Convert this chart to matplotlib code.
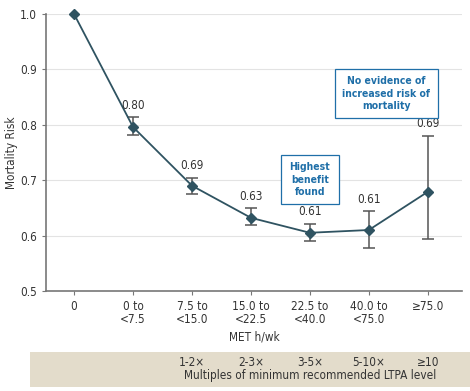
import matplotlib
matplotlib.use('Agg')
import matplotlib.pyplot as plt
from matplotlib.patches import Rectangle

plt.rcParams['font.family'] = ['DejaVu Sans']
plt.rcParams['font.stretch'] = 'condensed'
plt.rcParams['font.size'] = 8

categories = ['0', '0 to\n<7.5', '7.5 to\n<15.0', '15.0 to\n<22.5', '22.5 to\n<40.0', '40.0 to\n<75.0', '\u226575.0']
risk = [1.0, 0.796, 0.690, 0.632, 0.605, 0.610, 0.679]
ci_low = [None, 0.782, 0.675, 0.619, 0.591, 0.577, 0.594]
ci_high = [None, 0.814, 0.704, 0.649, 0.621, 0.644, 0.780]
risk_labels = ['', '0.80', '0.69', '0.63', '0.61', '0.61', '0.69']
multiples = ['', '', '1-2\u00d7', '2-3\u00d7', '3-5\u00d7', '5-10\u00d7', '\u226510']

line_col = '#2f5361'
err_col = '#555555'
box_col = '#1f6fa8'
txt_col = '#333333'

fig = plt.figure(figsize=(4.70, 3.91), dpi=100)
ax = fig.add_axes([0.098, 0.256, 0.885, 0.708])

x = list(range(len(categories)))
ax.plot(x, risk, color=line_col, lw=1.3, marker='D', ms=5.5, zorder=3, clip_on=False)

for i in x:
    if ci_low[i] is None:
        continue
    ax.errorbar(i, risk[i], yerr=[[risk[i] - ci_low[i]], [ci_high[i] - risk[i]]],
                fmt='none', ecolor=err_col, elinewidth=1.1, capsize=4, capthick=1.1, zorder=2)
    ax.text(i, ci_high[i] + 0.01, risk_labels[i], ha='center', va='bottom', fontsize=8.5, color=txt_col)

ax.set_xlim(-0.475, 6.58)
ax.set_ylim(0.5, 1.0)
ax.set_yticks([0.5, 0.6, 0.7, 0.8, 0.9, 1.0])
ax.set_yticklabels(['0.5', '0.6', '0.7', '0.8', '0.9', '1.0'])
ax.set_xticks(x)
ax.set_xticklabels(categories, linespacing=1.0)
ax.yaxis.grid(True, color='#e3e3e3', lw=0.8)
ax.set_axisbelow(True)
for s in ['top', 'right']:
    ax.spines[s].set_visible(False)
for s in ['left', 'bottom']:
    ax.spines[s].set_color('#777777')
    ax.spines[s].set_linewidth(1.2)
ax.tick_params(colors='#777777', labelcolor=txt_col, labelsize=8.5, length=3)
ax.set_ylabel('Mortality Risk', fontsize=8.5, color=txt_col)
ax.yaxis.set_label_coords(-0.067, 0.5)
ax.set_xlabel('MET h/wk', fontsize=8.5, color=txt_col, labelpad=3)

# annotation boxes
ax.add_patch(Rectangle((3.51, 0.657), 0.98, 0.088, fc='white', ec=box_col, lw=0.9, zorder=4))
ax.text(4.0, 0.701, 'Highest\nbenefit\nfound', ha='center', va='center', fontsize=7.5, color=box_col,
        fontweight='bold', linespacing=1.35, zorder=5)
ax.add_patch(Rectangle((4.42, 0.813), 1.75, 0.087, fc='white', ec=box_col, lw=0.9, zorder=4))
ax.text(5.295, 0.8565, 'No evidence of\nincreased risk of\nmortality', ha='center', va='center', fontsize=7.5,
        color=box_col, fontweight='bold', linespacing=1.35, zorder=5)

# bottom band with multiples of recommended level
fig.patches.append(Rectangle((30 / 470, 1 - 387 / 391), 440 / 470, 35 / 391,
                             transform=fig.transFigure, fc='#e3dccb', ec='none'))
for i, m in enumerate(multiples):
    if m:
        xf = ax.transData.transform((i, 0.5))[0] / fig.bbox.width
        fig.text(xf, 1 - 362 / 391, m, ha='center', va='center', fontsize=8.5, color=txt_col)
fig.text(310 / 470, 1 - 376 / 391, 'Multiples of minimum recommended LTPA level', ha='center', va='center',
         fontsize=8.5, color=txt_col)

fig.savefig('out.png', dpi=100)
